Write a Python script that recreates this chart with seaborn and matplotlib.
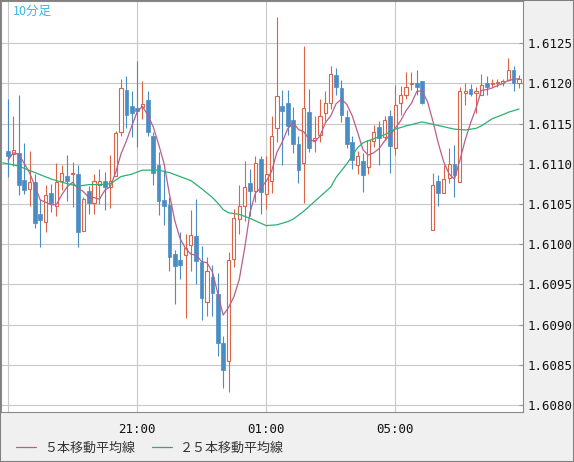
import numpy as np
import pandas as pd
import matplotlib
matplotlib.use("Agg")
import matplotlib.pyplot as plt
import seaborn as sns
from matplotlib.patches import Rectangle

# 10-minute bars starting 17:00 (bar 0); bar 78 has no candle drawn
opens = [1.61116, 1.61112, 1.61113, 1.61080, 1.61069, 1.61077, 1.61037, 1.61028, 1.61063, 1.61048,
         1.61079, 1.61085, 1.61087, 1.61087, 1.61016, 1.61066, 1.61051, 1.61074, 1.61078, 1.61071,
         1.61085, 1.61139, 1.61192, 1.61172, 1.61169, 1.61170, 1.61179, 1.61134, 1.61098, 1.61055,
         1.61049, 1.60988, 1.60980, 1.60986, 1.60999, 1.61010, 1.60978, 1.60928, 1.60959, 1.60938,
         1.60877, 1.60855, 1.60982, 1.61031, 1.61048, 1.61076, 1.61066, 1.61106, 1.61062, 1.61078,
         1.61145, 1.61172, 1.61176, 1.61154, 1.61125, 1.61101, 1.61164, 1.61129, 1.61136, 1.61163,
         1.61176, 1.61210, 1.61194, 1.61158, 1.61127, 1.61099, 1.61103, 1.61096, 1.61128, 1.61146,
         1.61133, 1.61159, 1.61119, 1.61175, 1.61186, 1.61199, 1.61200, 1.61203, np.nan, 1.61018,
         1.61078, 1.61064, 1.61082, 1.61100, 1.61077, 1.61188, 1.61193, 1.61188, 1.61185, 1.61200,
         1.61199, 1.61200, 1.61200, 1.61204, 1.61217, 1.61201]
highs = [1.61181, 1.61159, 1.61185, 1.61126, 1.61116, 1.61087, 1.61056, 1.61074, 1.61075, 1.61101,
         1.61098, 1.61111, 1.61102, 1.61098, 1.61059, 1.61072, 1.61087, 1.61094, 1.61090, 1.61111,
         1.61141, 1.61205, 1.61209, 1.61190, 1.61228, 1.61203, 1.61190, 1.61139, 1.61115, 1.61092,
         1.61059, 1.60993, 1.61015, 1.61012, 1.61042, 1.61056, 1.60998, 1.60984, 1.60974, 1.60964,
         1.60886, 1.60990, 1.61044, 1.61073, 1.61103, 1.61093, 1.61109, 1.61109, 1.61109, 1.61159,
         1.61282, 1.61192, 1.61192, 1.61170, 1.61134, 1.61246, 1.61193, 1.61159, 1.61180, 1.61191,
         1.61222, 1.61219, 1.61204, 1.61167, 1.61134, 1.61116, 1.61113, 1.61129, 1.61148, 1.61153,
         1.61159, 1.61167, 1.61198, 1.61197, 1.61214, 1.61214, 1.61217, 1.61203, np.nan, 1.61088,
         1.61086, 1.61098, 1.61120, 1.61123, 1.61195, 1.61200, 1.61199, 1.61195, 1.61212, 1.61209,
         1.61205, 1.61205, 1.61205, 1.61231, 1.61222, 1.61210]
lows = [1.61084, 1.61097, 1.61061, 1.61062, 1.61048, 1.61020, 1.60996, 1.61015, 1.61040, 1.61035,
        1.61067, 1.61054, 1.61046, 1.60997, 1.61016, 1.61038, 1.61037, 1.61050, 1.61042, 1.61045,
        1.61085, 1.61134, 1.61144, 1.61133, 1.61121, 1.61156, 1.61134, 1.61073, 1.61036, 1.61024,
        1.60966, 1.60926, 1.60957, 1.60908, 1.60966, 1.60951, 1.60905, 1.60911, 1.60910, 1.60861,
        1.60821, 1.60816, 1.60972, 1.61013, 1.61029, 1.61035, 1.61053, 1.61037, 1.61044, 1.61064,
        1.61127, 1.61098, 1.61136, 1.61113, 1.61076, 1.61051, 1.61115, 1.61115, 1.61127, 1.61153,
        1.61168, 1.61185, 1.61152, 1.61119, 1.61093, 1.61087, 1.61065, 1.61087, 1.61121, 1.61098,
        1.61130, 1.61089, 1.61111, 1.61161, 1.61181, 1.61192, 1.61185, 1.61174, np.nan, 1.61018,
        1.61047, 1.61064, 1.61076, 1.61059, 1.61077, 1.61173, 1.61184, 1.61163, 1.61185, 1.61185,
        1.61196, 1.61196, 1.61197, 1.61203, 1.61190, 1.61194]
closes = [1.61109, 1.61117, 1.61074, 1.61067, 1.61077, 1.61026, 1.61030, 1.61061, 1.61051, 1.61077,
          1.61088, 1.61079, 1.61089, 1.61015, 1.61056, 1.61051, 1.61078, 1.61079, 1.61071, 1.61078,
          1.61138, 1.61194, 1.61160, 1.61163, 1.61166, 1.61174, 1.61139, 1.61088, 1.61054, 1.61048,
          1.60984, 1.60973, 1.60974, 1.60995, 1.61011, 1.60979, 1.60933, 1.60966, 1.60939, 1.60877,
          1.60844, 1.60980, 1.61033, 1.61047, 1.61071, 1.61066, 1.61101, 1.61065, 1.61087, 1.61134,
          1.61184, 1.61166, 1.61147, 1.61124, 1.61092, 1.61169, 1.61120, 1.61132, 1.61159, 1.61175,
          1.61212, 1.61195, 1.61161, 1.61125, 1.61105, 1.61109, 1.61086, 1.61129, 1.61139, 1.61132,
          1.61155, 1.61122, 1.61173, 1.61185, 1.61195, 1.61201, 1.61196, 1.61176, np.nan, 1.61074,
          1.61064, 1.61081, 1.61100, 1.61086, 1.61190, 1.61191, 1.61187, 1.61190, 1.61198, 1.61195,
          1.61201, 1.61202, 1.61203, 1.61217, 1.61201, 1.61206]

# closes before the window and the rollover quote of bar 78, used only for the 5-bar average
prev_closes = [1.61072, 1.61083, 1.61123, 1.61136]
rollover_close = 1.61117

# 25-bar average
ma25_bar = [-1, 0, 2, 5, 8, 10, 13, 15, 17, 19, 21, 23, 25, 28, 30, 32, 34, 36, 38, 39,
            40, 41, 43, 45, 47, 48, 50, 52, 53, 55, 58, 60, 61, 63, 65, 66, 68, 70, 72, 74,
            77, 79, 81, 83, 85, 87, 88, 90, 92, 93, 95]
ma25 = [1.61101, 1.61100, 1.61097, 1.61089, 1.61081, 1.61077, 1.61072, 1.61074, 1.61074, 1.61075,
        1.61084, 1.61087, 1.61092, 1.61092, 1.61089, 1.61084, 1.61079, 1.61069, 1.61058, 1.61051,
        1.61043, 1.61039, 1.61037, 1.61032, 1.61026, 1.61023, 1.61024, 1.61028, 1.61031, 1.61041,
        1.61059, 1.61071, 1.61083, 1.61100, 1.61120, 1.61126, 1.61131, 1.61136, 1.61143, 1.61147,
        1.61152, 1.61149, 1.61146, 1.61143, 1.61142, 1.61144, 1.61147, 1.61156, 1.61161, 1.61164,
        1.61168]

xtick_pos = [0, 24, 48, 72]
xtick_labels = ["", "21:00", "01:00", "05:00"]
yticks = [1.6080, 1.6085, 1.6090, 1.6095, 1.6100, 1.6105, 1.6110, 1.6115, 1.6120, 1.6125]

up_color = "#dc6445"
down_color = "#4a8cc4"
ma5_color = "#bb5e8c"
ma25_color = "#2bb072"

sns.set_theme(style="white")
plt.rcParams["font.family"] = ["DejaVu Sans", "Noto Sans CJK JP"]

fig = plt.figure(figsize=(5.74, 4.62), dpi=100, facecolor="#f0f0f0")
ax = fig.add_axes([1 / 574, 50.5 / 462, 521.5 / 574, 410.5 / 462])
ax.set_facecolor("white")

df = pd.DataFrame({"bar": np.arange(len(closes)), "open": opens, "high": highs,
                   "low": lows, "close": closes}).dropna()
up = df[df["close"] >= df["open"]]
dn = df[df["close"] < df["open"]]

ax.vlines(dn["bar"], dn["low"], dn["high"], color=down_color, lw=0.8, zorder=2)
ax.bar(dn["bar"], dn["open"] - dn["close"], bottom=dn["close"], width=0.68,
       color=down_color, edgecolor=down_color, lw=0.5, zorder=3)
ax.vlines(up["bar"], up["low"], up["high"], color=up_color, lw=0.8, zorder=2)
ax.bar(up["bar"], up["close"] - up["open"], bottom=up["open"], width=0.58,
       facecolor="white", edgecolor=up_color, lw=0.8, zorder=3)

# moving averages
ma_src = pd.Series(prev_closes + [rollover_close if np.isnan(c) else c for c in closes])
ma5 = ma_src.rolling(5).mean().iloc[len(prev_closes):].to_numpy()
sns.lineplot(x=np.arange(len(closes)), y=ma5, ax=ax, color=ma5_color, lw=0.9,
             label="５本移動平均線", zorder=4)
sns.lineplot(x=ma25_bar, y=ma25, ax=ax, color=ma25_color, lw=0.9,
             label="２５本移動平均線", zorder=4)

handles, labels = ax.get_legend_handles_labels()
ax.get_legend().remove()
fig.legend(handles, labels, loc="center left", bbox_to_anchor=(16 / 574, 14 / 462),
           ncol=2, frameon=False, borderpad=0, borderaxespad=0, handlelength=1.55,
           handletextpad=0.6, columnspacing=1.3,
           prop={"family": ["Noto Sans CJK JP"], "size": 9.4}, labelcolor="#333333")

ax.set_xlim(-1.3, 95.65)
ax.set_ylim(1.607918, 1.613024)
ax.set_xticks(xtick_pos)
ax.set_xticklabels(xtick_labels)
ax.set_yticks(yticks)
ax.set_yticklabels([f"{v:.4f}" for v in yticks])
ax.yaxis.tick_right()
ax.grid(True, color="#c8c8c8", lw=0.8)
ax.set_axisbelow(True)
ax.tick_params(axis="y", direction="in", length=3, width=0.8, color="#999999",
               pad=3.5, labelsize=9, labelcolor="#111111")
ax.tick_params(axis="x", length=0, pad=8, labelsize=9, labelcolor="#111111")
for lab in ax.get_xticklabels() + ax.get_yticklabels():
    lab.set_fontfamily("DejaVu Sans Mono")
for sp in ax.spines.values():
    sp.set_color("#8a8a8a")
    sp.set_linewidth(0.8)

fig.text(13 / 574, 1 - 5 / 462, "10分足", ha="left", va="top", fontsize=9,
         color="#3cb4e6", family=["Noto Sans CJK JP"])
fig.patches.append(Rectangle((0, 0), 1, 1, transform=fig.transFigure, fill=False,
                             edgecolor="#808080", lw=1.5))

fig.savefig("out.png", dpi=100, facecolor=fig.get_facecolor())
